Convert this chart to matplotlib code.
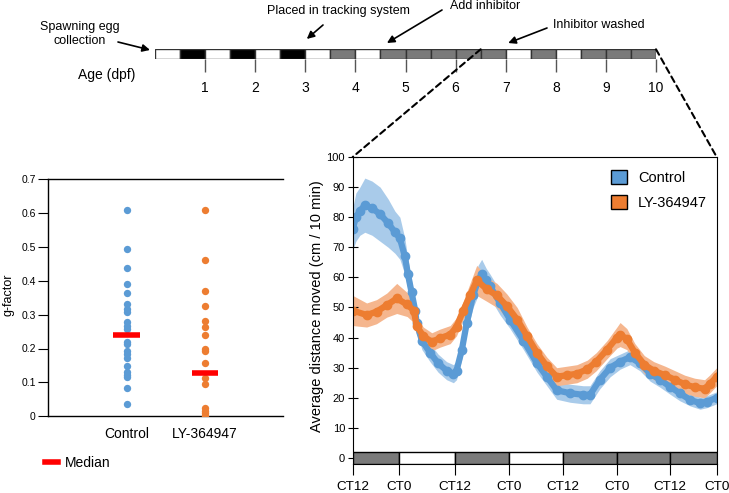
import matplotlib
matplotlib.use("Agg")
import matplotlib.pyplot as plt
from matplotlib.patches import Patch, ConnectionPatch
from matplotlib.lines import Line2D
import numpy as np

plt.rcParams['font.family'] = ['Liberation Sans', 'DejaVu Sans']

# timeline: half-day blocks from day 0 to day 10 (W = light, B = dark, G = constant dark)
day_blocks = ['W', 'B', 'W', 'B', 'W', 'B', 'W', 'G', 'W', 'G',
              'G', 'G', 'G', 'G', 'W', 'G', 'W', 'G', 'G', 'G']
day_ticks = [1, 2, 3, 4, 5, 6, 7, 8, 9, 10]

# g-factor per fish
control_g = [0.609, 0.493, 0.436, 0.389, 0.363, 0.331, 0.317, 0.307, 0.277, 0.267,
             0.258, 0.220, 0.212, 0.193, 0.183, 0.173, 0.148, 0.132, 0.122, 0.115,
             0.083, 0.035]
ly_g = [0.609, 0.461, 0.370, 0.325, 0.281, 0.262, 0.240, 0.200, 0.194, 0.156,
        0.112, 0.094, 0.024, 0.017, 0.009, 0.001]
medians = [0.240, 0.129]
groups = ['Control', 'LY-364947']

# activity (hours from first CT12)
ctrl_t = [0.0, 0.7, 1.6, 2.7, 4.3, 6.1, 7.9, 9.4, 10.5, 11.6, 12.3, 13.1, 13.9, 14.2,
          15.4, 17.2, 19.0, 20.9, 22.4, 23.1, 24.3, 25.4, 26.8, 27.9, 28.7, 29.7, 30.6,
          32.8, 35.0, 38.0, 41.0, 43.2, 45.4, 48.4, 51.3, 52.8, 55.0, 57.3, 59.5, 61.7,
          63.9, 66.2, 68.4, 70.6, 72.8, 75.1, 77.3, 78.8, 81.0]
ctrl_mean = [76, 80, 82, 84, 83, 81, 78, 75, 73, 67, 61, 55, 49, 45,
             39, 35, 31.5, 29, 28, 29, 36, 45, 54, 59, 61, 59, 57,
             51.5, 46, 39, 31.5, 27, 22.5, 21.5, 21, 21, 26, 30, 32, 33.5,
             31.5, 28, 26, 23.7, 21.5, 19.3, 18.2, 18.7, 20]
ctrl_sem = [7, 8, 8, 9, 9, 9, 8, 7, 7, 6, 5, 4, 3, 3,
            3, 3, 3, 3, 3, 3, 3, 3, 4, 5, 5, 4, 4,
            4, 3, 3, 3, 3, 3, 3, 3, 3, 3, 3, 2.5, 2.5,
            2.5, 2.5, 2.5, 2.5, 2.5, 2, 2, 2, 2]

ly_t = [0.0, 3.1, 5.3, 7.6, 9.8, 12.1, 13.6, 14.2, 15.7, 17.6, 19.4, 21.7, 23.1, 24.6,
        26.1, 27.6, 29.9, 32.1, 34.3, 36.6, 38.8, 41.0, 43.2, 45.4, 47.7, 49.9, 52.2,
        54.2, 56.6, 58.8, 59.5, 61.0, 62.8, 64.9, 67.0, 69.5, 71.7, 73.9, 76.1, 78.3,
        79.4, 81.0]
ly_mean = [49, 47.5, 48.6, 50.8, 53, 51, 49, 44, 40.5, 38.6, 39.8, 41, 43.6, 49,
           54, 59, 56, 54, 50.5, 46, 40.5, 35, 30.5, 27, 27.5, 28, 29.5,
           32, 36, 40, 41, 39.5, 35, 31, 29, 27.5, 26, 24.5, 23.5, 23,
           24.5, 27]
ly_sem = [5, 4, 4, 4, 5, 4, 4, 3, 3, 3, 3, 3, 3, 3,
          4, 5, 4, 4, 4, 4, 3, 3, 3, 3, 3, 3, 3,
          3, 3, 3.5, 4, 3.5, 3, 3, 3, 3, 3, 3, 3, 3,
          3, 3]

ct_ticks = [0, 10.4, 22.8, 34.85, 46.85, 58.75, 70.6, 81]
ct_labels = ['CT12', 'CT0', 'CT12', 'CT0', 'CT12', 'CT0', 'CT12', 'CT0']
ct_blocks = ['G', 'W', 'G', 'W', 'G', 'G', 'G']

blue = '#5B9BD5'
orange = '#ED7D31'
blue_lt = '#A9CBEA'
orange_lt = '#F5B68E'
shade = {'W': 'white', 'B': 'black', 'G': '#7A7A7A'}

W, H = 729, 493
fig = plt.figure(figsize=(W / 100, H / 100), dpi=100)


def fx(px):
    return px / W


def fy(py):
    return 1 - py / H


# ---- timeline ----
ax_t = fig.add_axes([fx(155), fy(58.7), fx(501), 9.4 / H])
starts = np.arange(len(day_blocks)) * 0.5
ax_t.bar(starts, 1, width=0.5, align='edge', color=[shade[c] for c in day_blocks],
         edgecolor='#333333', linewidth=1)
ax_t.set_xlim(0, 10)
ax_t.set_ylim(0, 1)
for s in ax_t.spines.values():
    s.set_visible(False)
ax_t.set_yticks([])
ax_t.set_xticks(day_ticks)
ax_t.set_xticklabels([str(d) for d in day_ticks], fontsize=10)
ax_t.tick_params(axis='x', length=9, width=1, color='#555555', pad=7)
fig.text(fx(107), fy(75), 'Age (dpf)', fontsize=10, ha='center', va='center')

arrow = dict(arrowstyle='-|>', color='black', lw=1.2, mutation_scale=11, shrinkA=0, shrinkB=0)
notes = [
    ('Spawning egg\ncollection', (80, 34), (-0.1, 0.93), (118, 42)),
    ('Placed in tracking system', (338, 11), (3.03, 2.1), (323, 25)),
    ('Add inhibitor', (485, 6), (4.63, 1.67), (442, 10)),
    ('Inhibitor washed', (599, 25), (7.05, 1.67), (547, 28)),
]
for label, tpos, tip, start in notes:
    fig.text(fx(tpos[0]), fy(tpos[1]), label, fontsize=9, ha='center', va='center',
             linespacing=1.15)
    ax_t.annotate('', xy=tip, xycoords='data', xytext=(fx(start[0]), fy(start[1])),
                  textcoords='figure fraction', arrowprops=arrow, annotation_clip=False)

# ---- g-factor scatter ----
ax_g = fig.add_axes([fx(48.3), fy(416.3), fx(235), 237.3 / H])
ax_g.scatter([1] * len(control_g), control_g, s=28, color=blue, zorder=3, linewidths=0)
ax_g.scatter([2] * len(ly_g), ly_g, s=28, color=orange, zorder=3, linewidths=0)
ax_g.hlines(medians, [0.83, 1.83], [1.17, 2.17], color='red', lw=4, zorder=4)
ax_g.set_xlim(0, 3)
ax_g.set_ylim(0, 0.7)
ax_g.spines['right'].set_visible(False)
for s in ax_g.spines.values():
    s.set_linewidth(1)
ax_g.set_xticks([1, 2])
ax_g.set_xticklabels(groups, fontsize=10)
ax_g.tick_params(axis='x', length=0, pad=8)
yt = [0, 0.1, 0.2, 0.3, 0.4, 0.5, 0.6, 0.7]
ax_g.set_yticks(yt)
ax_g.set_yticklabels(['0'] + ['%.1f' % v for v in yt[1:]], fontsize=7.5)
ax_g.tick_params(axis='y', length=7, pad=2)
ax_g.set_ylabel('g-factor', fontsize=9)
ax_g.yaxis.set_label_coords(-0.17, 0.511)
ax_g.yaxis.label.set_va('center')
fig.legend(handles=[Line2D([], [], color='red', lw=4)], labels=['Median'],
           loc='center left', bbox_to_anchor=(fx(32), fy(463)), frameon=False,
           fontsize=10, handlelength=1.0, handletextpad=0.5)

# ---- activity plot ----
ax_r = fig.add_axes([fx(352.7), fy(464), fx(364), 307 / H])
ax_r.fill_between(ctrl_t, np.array(ctrl_mean) - ctrl_sem, np.array(ctrl_mean) + ctrl_sem,
                  color=blue_lt, lw=0, zorder=1)
ax_r.fill_between(ly_t, np.array(ly_mean) - ly_sem, np.array(ly_mean) + ly_sem,
                  color=orange_lt, lw=0, zorder=1.5)
ax_r.plot(ctrl_t, ctrl_mean, color=blue, lw=4.5, marker='o', ms=6, zorder=2)
ax_r.plot(ly_t, ly_mean, color=orange, lw=4.5, marker='o', ms=6, zorder=2.5)
ax_r.bar(ct_ticks[:-1], 3.9, bottom=-2, width=np.diff(ct_ticks), align='edge',
         color=[shade[c] for c in ct_blocks], edgecolor='black', linewidth=1, zorder=3)
ax_r.set_xlim(0, 81)
ax_r.set_ylim(-2, 100)
ax_r.set_yticks(range(0, 101, 10))
ax_r.tick_params(axis='y', labelsize=8, direction='inout', length=7, pad=2)
ax_r.set_xticks(ct_ticks)
ax_r.set_xticklabels(ct_labels, fontsize=9.7)
ax_r.tick_params(axis='x', length=8, pad=4)
ax_r.set_ylabel('Average distance moved (cm / 10 min)', fontsize=10.5)
ax_r.yaxis.set_label_coords(-0.099, 0.513)
ax_r.yaxis.label.set_va('center')
ax_r.legend(handles=[Patch(facecolor=blue, edgecolor='black'),
                     Patch(facecolor=orange, edgecolor='black')],
            labels=groups, loc='upper right', bbox_to_anchor=(1.01, 1.0), frameon=False,
            fontsize=10.5, handlelength=1.1, handleheight=1.1, labelspacing=0.7,
            handletextpad=0.8)

# zoom lines from timeline to activity plot
for a, b in [((6.5, 1), (0, 100)), ((10, 1), (81, 100))]:
    con = ConnectionPatch(xyA=a, coordsA=ax_t.transData, xyB=b, coordsB=ax_r.transData,
                          color='black', lw=1.5, linestyle=(0, (3, 2)))
    fig.add_artist(con)

fig.savefig('out.png', dpi=100)
